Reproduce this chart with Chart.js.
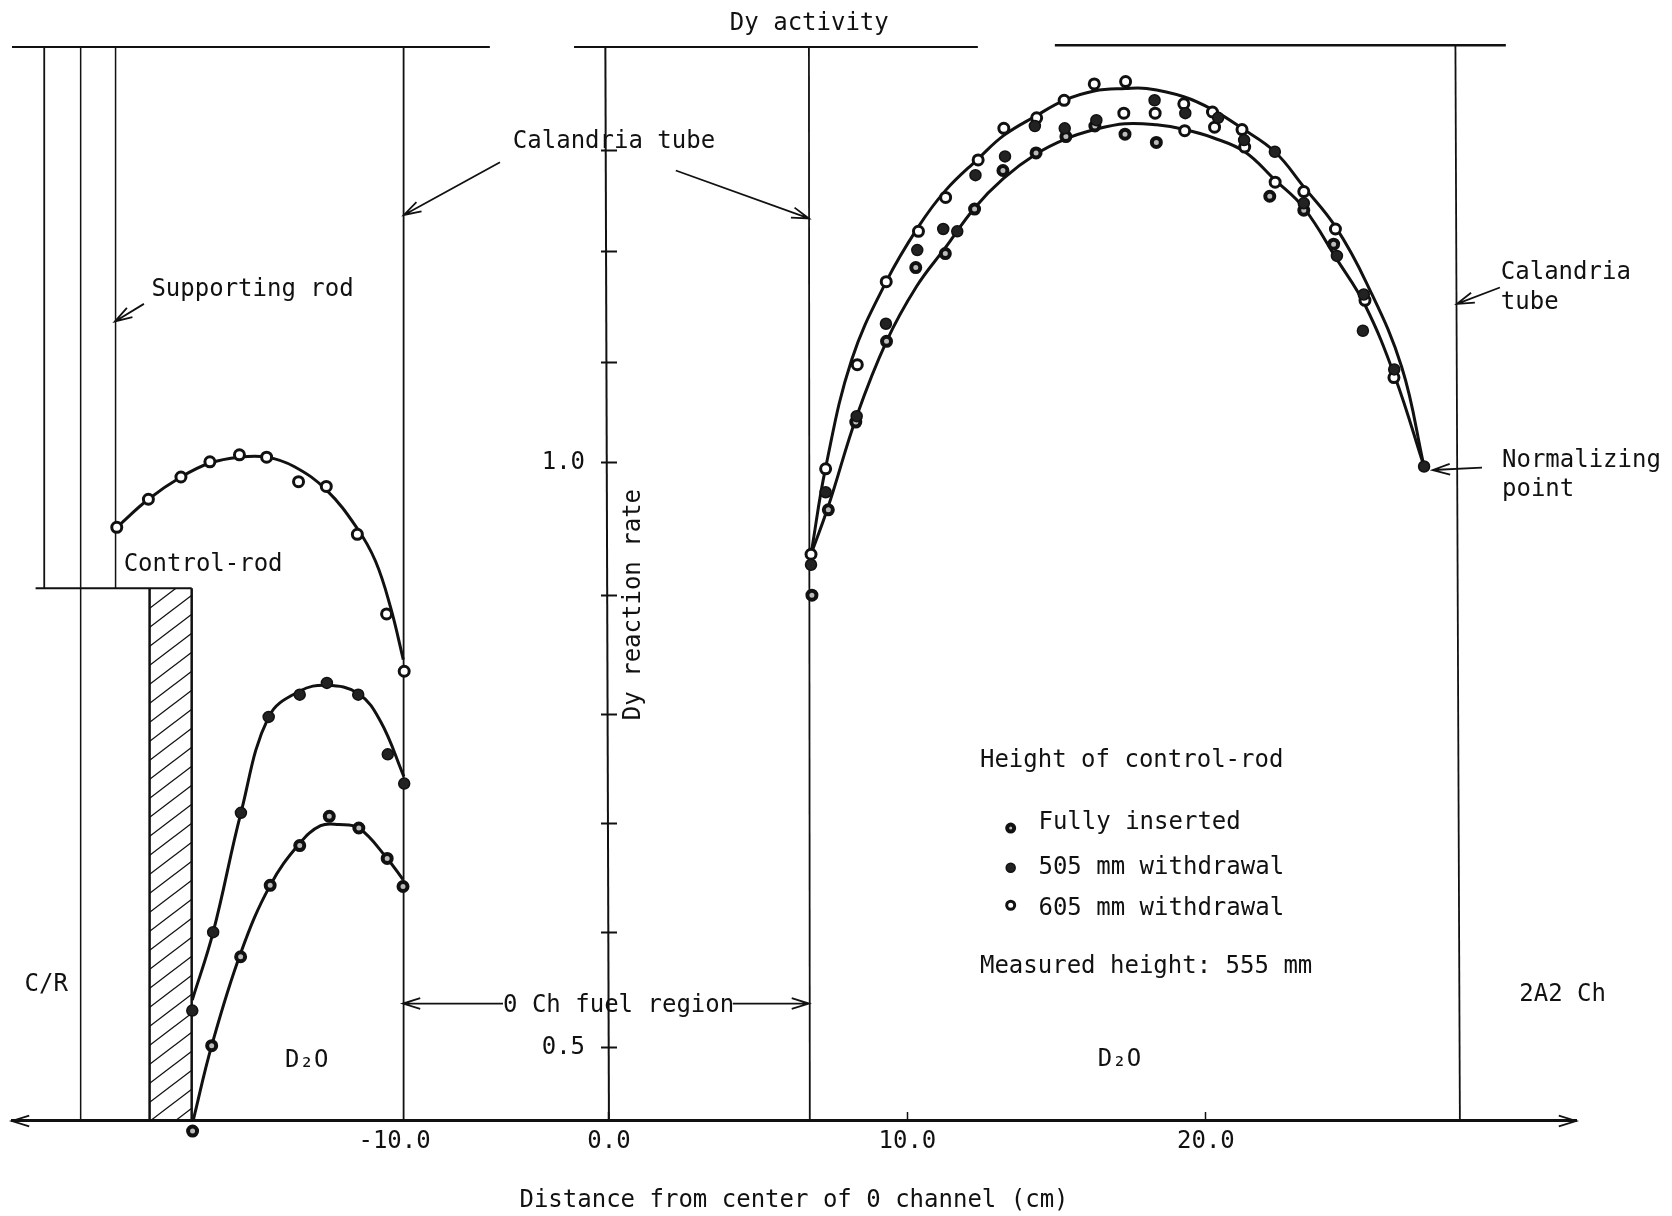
<!DOCTYPE html>
<html>
<head>
<meta charset="utf-8">
<title>Dy activity</title>
<script src="https://cdn.jsdelivr.net/npm/chart.js@4"></script>
<style>
  body { margin: 0; background: #fff; }
  canvas { display: block; }
</style>
</head>
<body>
<canvas id="chart" width="1672" height="1216"></canvas>
<script>
// left side of the break (x read against the -10.0 line)
const leftOpenX = [-19.61, -18.55, -17.46, -16.49, -15.50, -14.59, -13.52, -12.59, -11.55, -10.57, -9.98];
const leftOpenY = [0.945, 0.969, 0.988, 1.001, 1.007, 1.005, 0.984, 0.980, 0.939, 0.871, 0.822];
const leftFilledX = [-17.08, -16.38, -15.45, -14.52, -13.48, -12.57, -11.52, -10.53, -9.98];
const leftFilledY = [0.532, 0.599, 0.701, 0.783, 0.802, 0.812, 0.802, 0.751, 0.726];
const leftInsertedX = [-17.07, -16.43, -15.46, -14.47, -13.48, -12.49, -11.50, -10.55, -10.02];
const leftInsertedY = [0.429, 0.502, 0.578, 0.639, 0.673, 0.698, 0.688, 0.662, 0.638];

// hand drawn curves on the left
const curveOpenX = [-19.61, -18.55, -17.46, -16.49, -15.50, -14.59, -13.67, -12.59, -11.55, -10.94, -10.44, -10.01];
const curveOpenY = [0.945, 0.969, 0.988, 1.000, 1.005, 1.005, 0.997, 0.977, 0.944, 0.916, 0.877, 0.832];
const curveFilledX = [-17.08, -16.38, -15.45, -14.52, -13.48, -12.57, -11.52, -10.77, -9.99];
const curveFilledY = [0.541, 0.599, 0.701, 0.783, 0.805, 0.810, 0.803, 0.779, 0.732];
const curveInsertedX = [-17.05, -16.43, -15.46, -14.47, -13.48, -12.78, -12.17, -11.50, -10.55, -10.02];
const curveInsertedY = [0.438, 0.502, 0.581, 0.639, 0.675, 0.690, 0.691, 0.688, 0.662, 0.644];

// right side points
const rightOpenX = [6.77, 7.26, 8.32, 9.29, 10.37, 11.28, 12.37, 13.23, 14.33, 15.25, 16.26, 17.31, 17.25, 18.30, 19.26, 19.29, 20.22, 20.29, 21.21, 21.30, 22.32, 23.28, 24.34, 25.33, 26.30];
const rightOpenY = [0.922, 0.995, 1.084, 1.155, 1.198, 1.227, 1.259, 1.286, 1.295, 1.310, 1.324, 1.326, 1.299, 1.299, 1.307, 1.284, 1.300, 1.287, 1.285, 1.270, 1.240, 1.232, 1.200, 1.139, 1.073];
const rightFilledX = [6.77, 7.26, 8.30, 9.28, 10.33, 11.20, 11.67, 12.28, 13.27, 14.27, 15.27, 16.33, 18.28, 19.31, 20.41, 21.28, 22.31, 23.28, 24.39, 25.29, 25.26, 26.31, 27.31];
const rightFilledY = [0.913, 0.975, 1.040, 1.119, 1.182, 1.200, 1.198, 1.246, 1.262, 1.288, 1.286, 1.293, 1.310, 1.299, 1.295, 1.276, 1.266, 1.222, 1.177, 1.144, 1.113, 1.080, 0.997];
const rightInsertedX = [6.80, 7.35, 8.27, 9.30, 10.28, 11.27, 12.25, 13.20, 14.31, 15.31, 16.28, 17.29, 18.34, 22.14, 23.28, 24.28];
const rightInsertedY = [0.887, 0.960, 1.035, 1.104, 1.167, 1.179, 1.217, 1.250, 1.265, 1.279, 1.288, 1.281, 1.274, 1.228, 1.216, 1.187];

// the two curves on the right
const upperX = [6.77, 7.26, 8.13, 9.29, 10.37, 11.28, 12.37, 13.23, 14.33, 15.25, 16.26, 17.31, 18.01, 19.26, 20.22, 21.21, 22.31, 23.28, 24.34, 25.38, 26.56, 27.31];
const upperY = [0.922, 0.996, 1.088, 1.155, 1.202, 1.233, 1.260, 1.280, 1.297, 1.310, 1.318, 1.320, 1.320, 1.313, 1.302, 1.286, 1.266, 1.236, 1.202, 1.154, 1.082, 0.997];
const lowerX = [6.77, 7.35, 8.30, 9.30, 10.31, 11.27, 12.25, 13.21, 14.31, 15.31, 16.28, 17.29, 18.35, 19.29, 20.24, 21.30, 22.31, 23.28, 24.39, 25.33, 26.33, 27.31];
const lowerY = [0.922, 0.963, 1.040, 1.104, 1.151, 1.184, 1.218, 1.243, 1.264, 1.277, 1.285, 1.290, 1.289, 1.285, 1.278, 1.266, 1.242, 1.218, 1.174, 1.135, 1.074, 0.997];

// axes
const xTicks = [0, 10, 20];
const xLeftTicks = [-10];
const yTicks = [0.5, 0.599, 0.692, 0.785, 0.887, 1.0, 1.086, 1.181, 1.267];
const yLabels = [0.5, 1.0];
const yMin = 0.4205;      // a bit under the axis, the lowest point sits below it
const yMax = 1.3564;
const baseY = 0.4376;
const topY = 1.3556;
const rodY = 0.893;

// text on the drawing: [text, x, y]
const notes = [
  ["Dy activity", 4.05, 1.377],
  ["Calandria tube", -3.22, 1.276],
  ["Supporting rod", -15.33, 1.150],
  ["Control-rod", -16.26, 0.915],
  ["C/R", -19.58, 0.556],
  ["D₂O", -10.85, 0.491],
  ["D₂O", 16.38, 0.492],
  ["0 Ch fuel region", -3.55, 0.538],
  ["Calandria", 29.88, 1.164],
  ["tube", 29.88, 1.139],
  ["Normalizing", 29.92, 1.004],
  ["point", 29.92, 0.979],
  ["Height of control-rod", 12.43, 0.747],
  ["Fully inserted", 14.39, 0.694],
  ["505 mm withdrawal", 14.39, 0.656],
  ["605 mm withdrawal", 14.39, 0.621],
  ["Measured height: 555 mm", 12.43, 0.571],
  ["2A2 Ch", 30.5, 0.547]
];

// arrows: [x from, y from, x to, y to]
const arrows = [
  [-3.65, 1.257, -6.87, 1.212],
  [2.24, 1.250, 6.70, 1.209],
  [-15.58, 1.136, -16.55, 1.121],
  [29.85, 1.150, 28.41, 1.136],
  [29.25, 0.996, 27.60, 0.994],
  [-3.55, 0.538, -6.90, 0.538],
  [4.15, 0.538, 6.70, 0.538],
  [-19.06, baseY, -20.0, baseY],
  [31.19, baseY, 32.4, baseY]
];

const INK = "#111";
const zip = (xs, ys) => xs.map((x, i) => ({ x: x, y: ys[i] }));
const two = (x1, y1, x2, y2) => [{ x: x1, y: y1 }, { x: x2, y: y2 }];

function straight(data, axis, width) {
  return { type: "line", data: data, xAxisID: axis, yAxisID: "y", borderColor: INK, borderWidth: width,
    pointRadius: 0, tension: 0, clip: false, order: 3 };
}
function curve(xs, ys, axis) {
  const d = straight(zip(xs, ys), axis, 3);
  d.tension = 0.4;
  return d;
}
function marks(data, axis, kind, r) {
  const styles = {
    open: { backgroundColor: "#fff", borderWidth: 3 },
    filled: { backgroundColor: "#222", borderWidth: 1.5 },
    inserted: { backgroundColor: "#bbb", borderWidth: 4 }
  };
  return { type: "line", data: data, xAxisID: axis, yAxisID: "y", showLine: false, clip: false, order: 1,
    pointRadius: r, pointBorderColor: INK, pointBackgroundColor: styles[kind].backgroundColor,
    pointBorderWidth: styles[kind].borderWidth };
}

// diagonal hatching of the control rod
function hatch() {
  const c = document.createElement("canvas");
  c.width = 25;
  c.height = 19;
  const g = c.getContext("2d");
  g.strokeStyle = INK;
  g.lineWidth = 1.3;
  g.beginPath();
  g.moveTo(-25, 38); g.lineTo(50, -19);
  g.moveTo(-25, 19); g.lineTo(25, -19);
  g.moveTo(0, 38); g.lineTo(50, 0);
  g.stroke();
  return g.createPattern(c, "repeat");
}

const drawingNotes = {
  id: "drawingNotes",
  afterDatasetsDraw(chart) {
    const ctx = chart.ctx;
    const sx = chart.scales.x;
    const sy = chart.scales.y;
    ctx.save();
    ctx.fillStyle = INK;
    ctx.strokeStyle = INK;
    ctx.font = "24px 'DejaVu Sans Mono'";
    ctx.textBaseline = "middle";
    notes.forEach(n => ctx.fillText(n[0], sx.getPixelForValue(n[1]), sy.getPixelForValue(n[2]) + 2));

    ctx.save();
    ctx.translate(sx.getPixelForValue(0.84), sy.getPixelForValue(0.879));
    ctx.rotate(-Math.PI / 2);
    ctx.textAlign = "center";
    ctx.fillText("Dy reaction rate", 0, 0);
    ctx.restore();

    ctx.lineWidth = 1.8;
    arrows.forEach(a => {
      const x1 = sx.getPixelForValue(a[0]), y1 = sy.getPixelForValue(a[1]);
      const x2 = sx.getPixelForValue(a[2]), y2 = sy.getPixelForValue(a[3]);
      const t = Math.atan2(y2 - y1, x2 - x1);
      ctx.beginPath();
      ctx.moveTo(x1, y1);
      ctx.lineTo(x2, y2);
      ctx.moveTo(x2 - 18 * Math.cos(t - 0.3), y2 - 18 * Math.sin(t - 0.3));
      ctx.lineTo(x2, y2);
      ctx.lineTo(x2 - 18 * Math.cos(t + 0.3), y2 - 18 * Math.sin(t + 0.3));
      ctx.stroke();
    });
    ctx.restore();
  }
};

Chart.defaults.font.family = "'DejaVu Sans Mono'";
Chart.defaults.font.size = 24;
Chart.defaults.color = INK;

new Chart(document.getElementById("chart"), {
  type: "line",
  data: {
    datasets: [
      // points
      marks(zip(leftOpenX, leftOpenY), "xl", "open", 5),
      marks(zip(leftFilledX, leftFilledY), "xl", "filled", 5.5),
      marks(zip(leftInsertedX, leftInsertedY), "xl", "inserted", 4.5),
      marks(zip(rightFilledX, rightFilledY), "x", "filled", 5.5),
      marks(zip(rightInsertedX, rightInsertedY), "x", "inserted", 4.5),
      marks(zip(rightOpenX, rightOpenY), "x", "open", 5),
      // legend keys
      marks([{ x: 13.46, y: 0.688 }], "x", "inserted", 3.5),
      marks([{ x: 13.46, y: 0.654 }], "x", "filled", 4.5),
      marks([{ x: 13.46, y: 0.622 }], "x", "open", 4),
      // curves
      curve(curveOpenX, curveOpenY, "xl"),
      curve(curveFilledX, curveFilledY, "xl"),
      curve(curveInsertedX, curveInsertedY, "xl"),
      curve(upperX, upperY, "x"),
      curve(lowerX, lowerY, "x"),
      // top line, it has two gaps
      straight(two(-20, topY, -3.99, topY), "x", 2),
      straight(two(-1.17, topY, 12.36, topY), "x", 2),
      straight(two(14.94, 1.357, 30.05, 1.357), "x", 2.5),
      // drawing of the channels
      straight(two(-22.04, topY, -22.04, rodY), "xl", 1.8),
      straight(two(-20.82, topY, -20.82, baseY), "xl", 1.5),
      straight(two(-19.65, topY, -19.65, rodY), "xl", 1.5),
      straight(two(-10, topY, -10, baseY), "xl", 1.8),
      straight(two(-0.12, topY, 0, baseY), "x", 2),
      straight(two(6.70, topY, 6.73, baseY), "x", 1.8),
      straight(two(28.36, 1.357, 28.51, baseY), "x", 1.8),
      // control rod
      straight(two(-22.33, rodY, -17.10, rodY), "xl", 2),
      straight(two(-18.51, rodY, -18.51, baseY), "xl", 2.5),
      straight(two(-17.10, rodY, -17.10, baseY), "xl", 2.5),
      { type: "line", data: two(-18.51, rodY, -17.10, rodY), xAxisID: "xl", yAxisID: "y", borderWidth: 0,
        pointRadius: 0, backgroundColor: hatch(), fill: { value: baseY }, order: 4 }
    ]
  },
  options: {
    responsive: false,
    animation: false,
    layout: { padding: { top: 46, left: 12, right: 96, bottom: 75 } },
    plugins: { legend: { display: false }, tooltip: { enabled: false } },
    scales: {
      x: {
        type: "linear", position: { y: baseY }, min: -20, max: 32.4,
        afterFit: s => { s.height = 75; },
        afterBuildTicks: s => { s.ticks = xTicks.map(v => ({ value: v })); },
        grid: { drawOnChartArea: false, tickLength: -10, tickColor: INK, tickWidth: 1.5 },
        border: { color: INK, width: 3 },
        ticks: { padding: 16, maxRotation: 0, autoSkip: false, callback: v => v.toFixed(1) },
        title: { display: true, text: "Distance from center of 0 channel (cm)", padding: { top: 0, bottom: -19.2 }, color: INK }
      },
      xl: {
        type: "linear", position: { y: baseY }, min: -23.12, max: 29.28,
        afterFit: s => { s.height = 0; },
        afterBuildTicks: s => { s.ticks = xLeftTicks.map(v => ({ value: v })); },
        grid: { drawOnChartArea: false, drawTicks: false },
        border: { display: false },
        ticks: { padding: 6, maxRotation: 0, autoSkip: false, labelOffset: -9, callback: v => v.toFixed(1) }
      },
      y: {
        type: "linear", position: { x: 0.27 }, min: yMin, max: yMax,
        afterFit: s => { s.width = 0; },
        afterBuildTicks: s => { s.ticks = yTicks.map(v => ({ value: v })); },
        grid: { drawOnChartArea: false, tickLength: 16, tickColor: INK, tickWidth: 2 },
        border: { display: false },
        ticks: { display: false, autoSkip: false }
      },
      // only carries the 1.0 and 0.5 labels, left of the ticks
      yl: {
        type: "linear", position: { x: -0.8 }, min: yMin, max: yMax,
        afterFit: s => { s.width = 0; },
        afterBuildTicks: s => { s.ticks = yLabels.map(v => ({ value: v })); },
        grid: { display: false },
        border: { display: false },
        ticks: { autoSkip: false, callback: v => v.toFixed(1) }
      }
    }
  },
  plugins: [drawingNotes]
});
</script>
</body>
</html>
